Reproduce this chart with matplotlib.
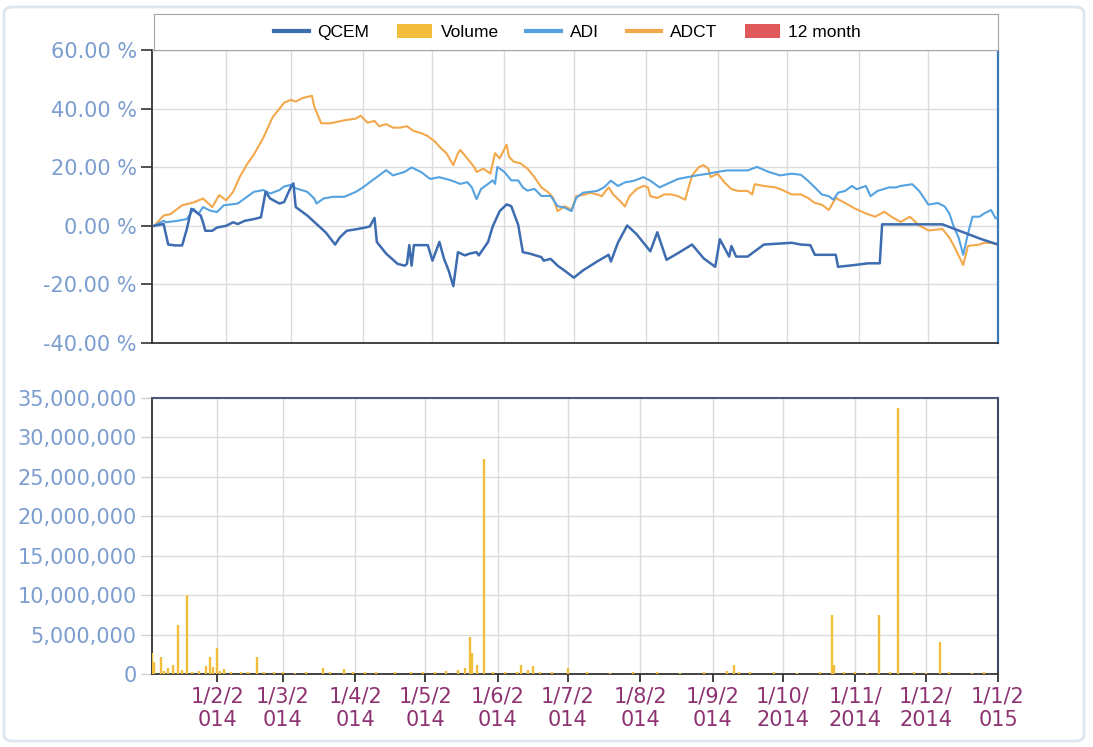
import numpy as np
import matplotlib
matplotlib.use('Agg')
import matplotlib.pyplot as plt
from matplotlib.lines import Line2D
from matplotlib.patches import Patch, FancyBboxPatch
from matplotlib.ticker import FuncFormatter, MultipleLocator

# ---------------- data (day = day of year 2014) ----------------
adct_day = [1, 5, 8, 13, 18, 22, 26, 29, 32, 35, 38, 41, 44, 48, 52, 57, 60, 62, 65, 69, 70, 73, 77, 83, 88,
            90, 93, 96, 98, 101, 104, 107, 110, 113, 116, 119, 122, 124, 127, 130, 132, 133, 136, 139, 140,
            143, 146, 148, 150, 153, 154, 156, 159, 162, 165, 168, 171, 173, 175, 178, 181, 183, 187, 189,
            192, 194, 197, 199, 202, 204, 206, 209, 212, 214, 215, 218, 221, 224, 227, 230, 233, 236, 238,
            240, 241, 244, 247, 250, 253, 257, 259, 260, 264, 269, 272, 276, 280, 283, 286, 289, 292, 295,
            299, 303, 308, 312, 316, 319, 323, 327, 331, 335, 341, 344, 346, 350, 352, 357, 359, 362, 365]
adct_pct = [0.0, 3.5, 4.0, 7.0, 8.0, 9.3, 6.4, 10.5, 8.7, 11.6, 16.9, 21.0, 24.4, 30.0, 37.0, 42.0, 43.0,
            42.4, 43.6, 44.4, 40.7, 35.0, 35.0, 36.0, 36.6, 37.6, 35.2, 35.8, 34.0, 34.7, 33.5, 33.5, 34.0,
            32.3, 31.7, 30.6, 28.8, 27.0, 24.8, 20.7, 24.8, 25.9, 23.0, 20.1, 18.4, 19.5, 17.8, 24.8, 23.0,
            27.7, 23.6, 21.9, 21.3, 19.5, 16.6, 13.1, 11.4, 9.7, 5.0, 6.7, 5.5, 10.1, 10.7, 11.3, 10.7, 10.1,
            13.1, 10.7, 8.4, 6.6, 10.1, 12.5, 13.6, 13.1, 10.1, 9.5, 10.7, 10.7, 10.1, 8.9, 17.2, 20.1, 20.7,
            19.5, 16.6, 17.8, 14.8, 12.5, 11.9, 11.9, 10.7, 14.2, 13.6, 13.1, 12.2, 10.7, 10.7, 9.5, 7.8, 7.2,
            5.4, 9.5, 7.8, 6.0, 4.2, 3.1, 4.8, 3.1, 1.3, 3.1, 0.1, -1.6, -1.1, -4.0, -6.9, -13.4, -6.9, -6.4,
            -5.8, -5.8, -6.4]

adi_day = [1, 5, 6, 11, 15, 18, 20, 22, 25, 28, 31, 37, 41, 44, 48, 51, 55, 57, 60, 62, 67, 70, 71, 74, 78,
           83, 88, 91, 94, 98, 101, 104, 109, 112, 116, 120, 124, 129, 133, 136, 138, 140, 142, 145, 147, 148,
           149, 152, 155, 158, 160, 162, 165, 168, 172, 175, 178, 181, 183, 186, 192, 195, 198, 201, 204, 208,
           212, 215, 219, 222, 227, 231, 235, 240, 244, 248, 253, 257, 261, 266, 271, 276, 280, 283, 286, 289,
           292, 294, 296, 299, 302, 304, 308, 310, 313, 318, 321, 323, 328, 331, 335, 339, 342, 344, 346, 348,
           350, 352, 354, 357, 359, 362, 364, 365]
adi_pct = [0.0, 1.7, 1.2, 1.7, 2.3, 5.8, 4.0, 6.4, 5.2, 4.7, 7.0, 7.6, 9.9, 11.6, 12.2, 11.0, 12.2, 13.4,
           14.0, 12.8, 11.6, 9.3, 7.6, 9.3, 9.9, 9.9, 11.6, 13.1, 14.9, 17.2, 19.0, 17.2, 18.4, 19.9, 18.4,
           16.0, 16.6, 15.5, 14.3, 14.9, 13.1, 9.1, 12.6, 14.3, 15.5, 14.3, 20.1, 18.4, 15.5, 15.5, 13.1, 12.0,
           12.6, 10.2, 10.2, 6.7, 6.2, 5.0, 9.5, 11.3, 11.9, 13.1, 15.4, 13.6, 14.8, 15.4, 16.6, 15.4, 13.1,
           14.2, 16.0, 16.6, 17.2, 17.8, 18.4, 18.9, 18.9, 18.9, 20.1, 18.4, 17.2, 17.8, 17.4, 15.4, 13.1,
           10.7, 10.1, 8.9, 11.3, 11.9, 13.6, 12.5, 13.6, 10.1, 11.9, 13.1, 13.1, 13.6, 14.2, 11.9, 7.2, 7.8,
           6.6, 4.2, -0.5, -4.0, -9.9, -2.8, 3.1, 3.1, 4.2, 5.4, 2.5, 3.1]

qcem_day = [1, 5, 6, 7, 10, 13, 15, 17, 19, 21, 22, 23, 26, 28, 32, 35, 37, 40, 44, 47, 49, 51, 55, 57, 60,
            61, 62, 67, 71, 75, 79, 81, 84, 88, 92, 94, 96, 97, 101, 106, 109, 110, 111, 112, 113, 119, 121,
            124, 126, 128, 130, 132, 135, 137, 140, 141, 145, 147, 150, 153, 155, 158, 160, 163, 168, 169,
            172, 175, 178, 182, 186, 192, 197, 198, 201, 205, 209, 215, 218, 222, 227, 233, 238, 243, 245,
            249, 250, 252, 257, 264, 270, 276, 280, 284, 286, 295, 296, 303, 309, 314, 315, 341, 348, 358, 365]
qcem_pct = [0.0, 0.6, -2.9, -6.4, -6.7, -6.7, -1.2, 5.8, 4.7, 3.5, 1.2, -1.7, -1.7, -0.6, 0.0, 1.2, 0.6, 1.7,
            2.3, 2.9, 11.6, 9.3, 7.6, 8.1, 13.4, 14.5, 6.4, 3.5, 0.6, -2.3, -6.4, -4.0, -1.7, -1.2, -0.6, -0.2,
            2.7, -5.5, -9.5, -13.0, -13.6, -13.0, -6.6, -13.6, -6.6, -6.6, -11.9, -5.5, -11.3, -15.3, -20.6,
            -9.0, -10.1, -9.5, -9.0, -10.1, -5.5, -0.2, 5.0, 7.3, 6.7, 0.3, -9.0, -9.5, -10.7, -11.9, -11.3,
            -13.6, -15.3, -17.7, -15.2, -12.2, -9.9, -12.2, -5.8, 0.1, -2.8, -8.7, -2.2, -11.6, -9.3, -6.4,
            -11.1, -14.0, -4.6, -10.5, -6.9, -10.5, -10.5, -6.4, -6.1, -5.8, -6.4, -6.6, -9.9, -9.9, -14.0,
            -13.4, -12.8, -12.8, 0.5, 0.5, -1.6, -4.6, -6.4]

vol_day = [4, 5, 8, 9, 11, 13, 15, 17, 19, 21, 24, 27, 29, 30, 32, 33, 35, 38, 42, 45, 49, 52, 56, 60, 65,
           70, 77, 80, 86, 90, 95, 100, 108, 115, 120, 125, 130, 135, 138, 140, 141, 143, 146, 150, 155, 160,
           162, 165, 167, 170, 175, 182, 190, 200, 210, 220, 230, 240, 250, 253, 255, 260, 270, 280, 290,
           295, 296, 300, 305, 310, 315, 320, 323, 330, 335, 341, 345, 355, 360]
vol_mln = [2.6, 1.5, 2.2, 0.4, 0.8, 1.1, 6.2, 0.5, 10.0, 0.3, 0.4, 1.0, 2.2, 0.9, 3.3, 0.4, 0.6, 0.2, 0.3,
           0.2, 2.2, 0.2, 0.3, 0.2, 0.1, 0.2, 0.8, 0.3, 0.6, 0.2, 0.3, 0.2, 0.3, 0.2, 0.3, 0.2, 0.4, 0.5, 0.8,
           4.7, 2.6, 1.2, 27.3, 0.2, 0.3, 0.2, 1.1, 0.5, 1.0, 0.3, 0.2, 0.7, 0.2, 0.1, 0.2, 0.2, 0.1, 0.2,
           0.4, 1.2, 0.3, 0.2, 0.2, 0.1, 0.2, 7.5, 1.1, 0.2, 0.2, 0.1, 7.5, 0.2, 33.7, 0.2, 0.1, 4.1, 0.2,
           0.1, 0.2]

month_ticks = ['2014-02-01', '2014-03-01', '2014-04-01', '2014-05-01', '2014-06-01', '2014-07-01',
               '2014-08-01', '2014-09-01', '2014-10-01', '2014-11-01', '2014-12-01', '2015-01-01']
month_labels = ['1/2/2\n014', '1/3/2\n014', '1/4/2\n014', '1/5/2\n014', '1/6/2\n014', '1/7/2\n014',
                '1/8/2\n014', '1/9/2\n014', '1/10/\n2014', '1/11/\n2014', '1/12/\n2014', '1/1/2\n015']

legend_names = ['QCEM', 'Volume', 'ADI', 'ADCT', '12 month']

# ---------------- styling ----------------
C_QCEM = '#3d6cb0'
C_ADI = '#55a2e0'
C_ADCT = '#f4a84c'
C_VOL = '#f3bd3c'
C_12M = '#e05a5c'
C_YLAB = '#7c9dd0'
C_XLAB = '#8e3372'
C_GRID = '#dcdcdc'

BASE = np.datetime64('2013-12-31')


def to_dates(days):
    return BASE + np.array(days).astype('timedelta64[D]')


W, H = 1093, 747
fig = plt.figure(figsize=(W / 100, H / 100), dpi=100)
fig.patch.set_facecolor('white')

card = FancyBboxPatch((4 / W, 6 / H), 1080 / W, 734 / H, boxstyle='round,pad=0,rounding_size=0.008',
                      transform=fig.transFigure, facecolor='white', edgecolor='#dde5ee', lw=2.0, zorder=-5)
fig.patches.append(card)

# ---------- top panel ----------
ax1 = fig.add_axes([152 / W, 1 - 343 / H, 846 / W, 293 / H])
ax1.plot(to_dates(adct_day), adct_pct, color=C_ADCT, lw=1.5, zorder=3)
ax1.plot(to_dates(adi_day), adi_pct, color=C_ADI, lw=1.5, zorder=4)
ax1.plot(to_dates(qcem_day), qcem_pct, color=C_QCEM, lw=1.8, zorder=5)
ax1.set_xlim(np.datetime64('2013-12-31'), np.datetime64('2014-12-31'))
ax1.set_ylim(-40, 60)
ax1.yaxis.set_major_locator(MultipleLocator(20))
ax1.yaxis.set_major_formatter(FuncFormatter(lambda v, _: f"{v:.2f} %"))
ax1.set_xticks(np.array(month_ticks[:-1], dtype='datetime64[D]'))
ax1.tick_params(axis='x', length=0, labelbottom=False)
ax1.tick_params(axis='y', length=8, width=1.2, color='#333333', labelcolor=C_YLAB, labelsize=15, pad=3)
ax1.grid(True, color=C_GRID, lw=1.0)
ax1.set_axisbelow(True)
ax1.spines['left'].set_color('#333333')
ax1.spines['bottom'].set_color('#333333')
ax1.spines['left'].set_linewidth(1.3)
ax1.spines['bottom'].set_linewidth(1.3)
ax1.spines['top'].set_color('#a08585')
ax1.spines['right'].set_color('#3a7ab8')
ax1.spines['right'].set_linewidth(1.6)

# ---------- legend box ----------
axl = fig.add_axes([154 / W, 1 - 50 / H, 844 / W, 36 / H])
axl.set_xticks([])
axl.set_yticks([])
for s in axl.spines.values():
    s.set_color('#a6a6a6')
handles = [Line2D([], [], color=C_QCEM, lw=3),
           Patch(facecolor=C_VOL, edgecolor='none'),
           Line2D([], [], color=C_ADI, lw=3),
           Line2D([], [], color=C_ADCT, lw=3),
           Patch(facecolor=C_12M, edgecolor='none')]
axl.legend(handles, legend_names, loc='center', ncol=5, frameon=False,
           prop={'family': 'Liberation Sans', 'size': 12.5}, handlelength=2.0, handleheight=0.85,
           handletextpad=0.5, columnspacing=1.6, borderaxespad=0, bbox_to_anchor=(0.49, 0.5))

# ---------- bottom panel ----------
ax2 = fig.add_axes([152 / W, 1 - 674 / H, 846 / W, 276 / H])
ax2.vlines(to_dates(vol_day), 0, np.array(vol_mln) * 1e6, colors=C_VOL, lw=1.7, zorder=3)
ax2.set_xlim(np.datetime64('2014-01-04'), np.datetime64('2015-01-01'))
ax2.set_ylim(0, 35e6)
ax2.yaxis.set_major_locator(MultipleLocator(5e6))
ax2.yaxis.set_major_formatter(FuncFormatter(lambda v, _: f"{int(round(v)):,}"))
ax2.set_xticks(np.array(month_ticks, dtype='datetime64[D]'))
ax2.set_xticklabels(month_labels)
ax2.tick_params(axis='x', length=6, width=1.3, color='#333333', labelcolor=C_XLAB, labelsize=15, pad=3)
for lab in ax2.get_xticklabels():
    lab.set_linespacing(1.25)
ax2.tick_params(axis='y', length=8, width=1.0, color='#d0d0d0', labelcolor=C_YLAB, labelsize=15, pad=3)
ax2.grid(True, color=C_GRID, lw=1.0)
ax2.set_axisbelow(True)
ax2.spines['left'].set_color('#333333')
ax2.spines['bottom'].set_color('#333333')
ax2.spines['left'].set_linewidth(1.3)
ax2.spines['bottom'].set_linewidth(1.3)
ax2.spines['top'].set_color('#4a5a7c')
ax2.spines['top'].set_linewidth(1.5)
ax2.spines['right'].set_color('#3a4a62')
ax2.spines['right'].set_linewidth(1.5)

fig.savefig('out.png', dpi=100, facecolor=fig.get_facecolor())
